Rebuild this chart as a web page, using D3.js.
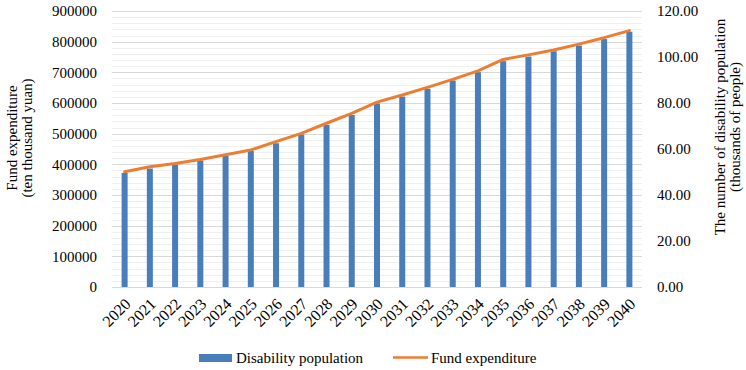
<!DOCTYPE html>
<html>
<head>
<meta charset="utf-8">
<script src="https://cdn.jsdelivr.net/npm/d3@7"></script>
<style>
  body { margin: 0; background: #fff; }
  svg text { font-family: "Liberation Serif", "Times New Roman", serif; font-size: 15px; fill: #000; }
</style>
</head>
<body>
<div id="chart-area"></div>
<script>
// data
var years = ["2020","2021","2022","2023","2024","2025","2026","2027","2028","2029","2030",
             "2031","2032","2033","2034","2035","2036","2037","2038","2039","2040"];
var population = [49.6, 51.5, 53.2, 55.0, 57.0, 59.2, 62.5, 66.3, 70.5, 74.8, 79.8,
                  82.8, 86.2, 89.8, 93.4, 98.2, 100.2, 102.5, 105.0, 107.8, 111.0];
var fund = [376000, 392000, 403000, 416000, 431000, 447000, 474000, 501000, 534000, 566000, 603000,
            626000, 651000, 677000, 705000, 742000, 757000, 773000, 792000, 813000, 836000];
var leftTicks = [0, 100000, 200000, 300000, 400000, 500000, 600000, 700000, 800000, 900000];
var rightTicks = [0, 20, 40, 60, 80, 100, 120];

var width = 746, height = 370;
var plot = {left: 112, right: 642, top: 11, bottom: 287};

var svg = d3.select("#chart-area")
    .append("svg")
    .attr("width", width)
    .attr("height", height);

var x = d3.scaleBand()
    .domain(years)
    .range([plot.left, plot.right]);

var yL = d3.scaleLinear()
    .domain([0, 900000])
    .range([plot.bottom, plot.top]);

var yR = d3.scaleLinear()
    .domain([0, 120])
    .range([plot.bottom, plot.top]);

// minor + major gridlines
var minor = d3.range(0, 900001, 20000).filter(function(v) { return v % 100000 != 0; });
svg.append("g").selectAll("line").data(minor).enter()
    .append("line")
    .attr("x1", plot.left).attr("x2", plot.right)
    .attr("y1", function(d) { return Math.round(yL(d)) + 0.5; })
    .attr("y2", function(d) { return Math.round(yL(d)) + 0.5; })
    .attr("stroke", "#f0f0f0").attr("stroke-width", 1);

svg.append("g").selectAll("line").data(leftTicks).enter()
    .append("line")
    .attr("x1", plot.left).attr("x2", plot.right)
    .attr("y1", function(d) { return Math.round(yL(d)) + 0.5; })
    .attr("y2", function(d) { return Math.round(yL(d)) + 0.5; })
    .attr("stroke", "#d9d9d9").attr("stroke-width", 1);

// bars (right axis)
var barW = 6;
svg.append("g").selectAll("rect").data(years).enter()
    .append("rect")
    .attr("x", function(d) { return x(d) + x.bandwidth() / 2 - barW / 2; })
    .attr("y", function(d, i) { return yR(population[i]); })
    .attr("width", barW)
    .attr("height", function(d, i) { return plot.bottom - yR(population[i]); })
    .attr("fill", "#4a7ebb");

// line (left axis)
var line = d3.line()
    .x(function(d, i) { return x(years[i]) + x.bandwidth() / 2; })
    .y(function(d) { return yL(d); });

svg.append("path")
    .datum(fund)
    .attr("d", line)
    .attr("fill", "none")
    .attr("stroke", "#ed7d31")
    .attr("stroke-width", 3)
    .attr("stroke-linejoin", "round")
    .attr("stroke-linecap", "round");

// left axis
var leftAxis = d3.axisLeft(yL).tickValues(leftTicks).tickSize(0).tickPadding(15)
    .tickFormat(d3.format("d"));
svg.append("g")
    .attr("transform", "translate(" + plot.left + ",0)")
    .call(leftAxis)
    .call(function(g) { g.select(".domain").remove(); })
    .selectAll("text").style("font-size", "15px").style("font-family", "Liberation Serif");

// right axis
var rightAxis = d3.axisRight(yR).tickValues(rightTicks).tickSize(0).tickPadding(15)
    .tickFormat(d3.format(".2f"));
svg.append("g")
    .attr("transform", "translate(" + plot.right + ",0)")
    .call(rightAxis)
    .call(function(g) { g.select(".domain").remove(); })
    .selectAll("text").style("font-size", "15px").style("font-family", "Liberation Serif");

// bottom axis
var bottomAxis = d3.axisBottom(x).tickSize(0).tickPadding(0);
var bx = svg.append("g")
    .attr("transform", "translate(0," + plot.bottom + ")")
    .call(bottomAxis);
bx.select(".domain").attr("stroke", "#d9d9d9").attr("d", "M" + plot.left + ",0.5H" + plot.right);
bx.selectAll("text")
    .style("font-size", "16px").style("font-family", "Liberation Serif")
    .attr("text-anchor", "end")
    .attr("y", 0).attr("dy", 0)
    .attr("transform", "translate(7,18) rotate(-45)");

// axis titles
var lt = svg.append("text")
    .attr("text-anchor", "middle")
    .attr("transform", "translate(17,138) rotate(-90)");
lt.append("tspan").attr("x", 0).attr("y", 0).text("Fund expenditure");
lt.append("tspan").attr("x", 0).attr("y", 15).text("(ten thousand yuan)");

var rt = svg.append("text")
    .attr("text-anchor", "middle")
    .attr("transform", "translate(725,127) rotate(-90)");
rt.append("tspan").attr("x", 0).attr("y", 0).text("The number of disability population");
rt.append("tspan").attr("x", 0).attr("y", 15).text("(thousands of people)");

// legend
var lg = svg.append("g");
lg.append("rect").attr("x", 199).attr("y", 354).attr("width", 33).attr("height", 8).attr("fill", "#4a7ebb");
lg.append("text").attr("x", 236).attr("y", 363).text("Disability population");
lg.append("line").attr("x1", 393).attr("x2", 428).attr("y1", 357.5).attr("y2", 357.5)
    .attr("stroke", "#ed7d31").attr("stroke-width", 2.5);
lg.append("text").attr("x", 431).attr("y", 363).text("Fund expenditure");
</script>
</body>
</html>
